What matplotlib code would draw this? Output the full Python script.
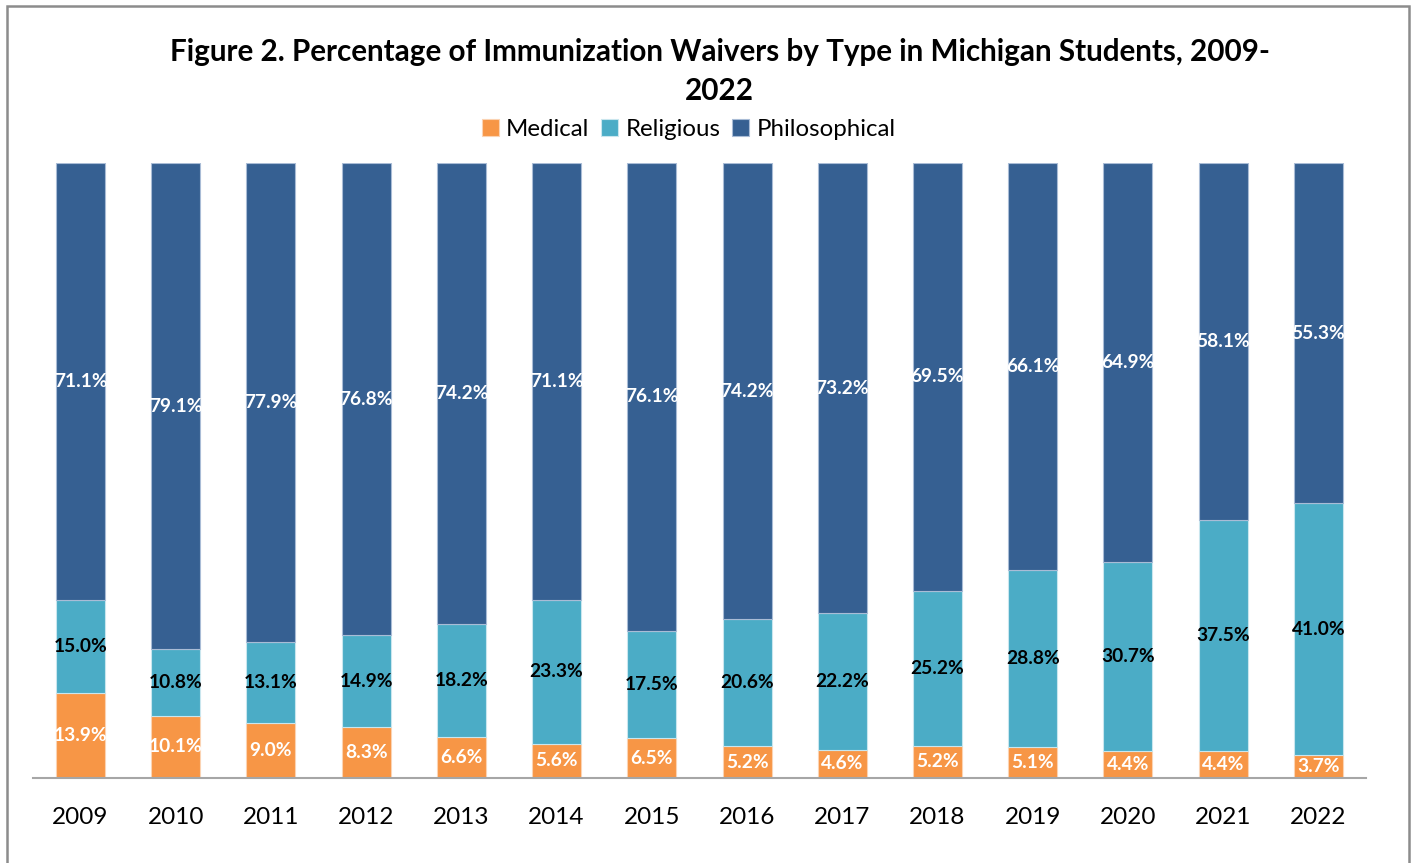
import matplotlib.pyplot as plt
import numpy as np
from matplotlib.patches import Rectangle

years = ["2009", "2010", "2011", "2012", "2013", "2014", "2015",
         "2016", "2017", "2018", "2019", "2020", "2021", "2022"]
medical = [13.9, 10.1, 9.0, 8.3, 6.6, 5.6, 6.5, 5.2, 4.6, 5.2, 5.1, 4.4, 4.4, 3.7]
religious = [15.0, 10.8, 13.1, 14.9, 18.2, 23.3, 17.5, 20.6, 22.2, 25.2, 28.8, 30.7, 37.5, 41.0]
philosophical = [71.1, 79.1, 77.9, 76.8, 74.2, 71.1, 76.1, 74.2, 73.2, 69.5, 66.1, 64.9, 58.1, 55.3]

plt.rcParams['font.family'] = ['Lato', 'DejaVu Sans']

fig = plt.figure(figsize=(14.14, 8.63), dpi=100)
ax = fig.add_axes([0.0233, 0.0985, 0.9427, 0.7126])

x = np.arange(len(years))
med = np.array(medical)
rel = np.array(religious)
phi = np.array(philosophical)
# 100% stacked: each bar scaled to its own total
tot = med + rel + phi
med_h = med / tot * 100
rel_h = rel / tot * 100
phi_h = phi / tot * 100
w = 0.515

b1 = ax.bar(x, med_h, w, color="#F79646", edgecolor="#fbd3b3", linewidth=0.8, label="Medical")
b2 = ax.bar(x, rel_h, w, bottom=med_h, color="#4BACC6", edgecolor="#c9e6ee", linewidth=0.8, label="Religious")
b3 = ax.bar(x, phi_h, w, bottom=med_h + rel_h, color="#366092", edgecolor="#a9bcd6", linewidth=0.8, label="Philosophical")

ax.bar_label(b1, labels=[f"{v:.1f}%" for v in med], label_type="center",
             color="white", fontweight="bold", fontsize=13.8)
ax.bar_label(b2, labels=[f"{v:.1f}%" for v in rel], label_type="center",
             color="black", fontweight="bold", fontsize=13.8)
ax.bar_label(b3, labels=[f"{v:.1f}%" for v in phi], label_type="center",
             color="white", fontweight="bold", fontsize=13.8)

ax.set_xlim(-0.5, len(years) - 0.5)
ax.set_ylim(0, 100)
ax.set_xticks(x)
ax.set_xticklabels(years, fontsize=17.5)
ax.tick_params(axis="x", length=0, pad=21)
ax.set_yticks([])
for s in ["top", "right", "left"]:
    ax.spines[s].set_visible(False)
ax.spines["bottom"].set_color("#a6a6a6")
ax.spines["bottom"].set_linewidth(1.5)

fig.text(0.509, 0.940, "Figure 2. Percentage of Immunization Waivers by Type in Michigan Students, 2009-",
         ha="center", va="center", fontsize=21.3, fontweight="bold")
fig.text(0.509, 0.894, "2022", ha="center", va="center", fontsize=21.3, fontweight="bold")

fig.legend(handles=[b1, b2, b3], loc="center", bbox_to_anchor=(0.487, 0.850), ncol=3,
           frameon=False, fontsize=17.3, handlelength=0.7, handleheight=0.7,
           handletextpad=0.3, columnspacing=0.5)

fig.add_artist(Rectangle((7 / 1414, -0.05), (1409 - 7) / 1414, 1.05 - 6 / 863,
                         transform=fig.transFigure, fill=False, edgecolor="#8c8c8c",
                         linewidth=1.8))

fig.savefig("out.png", dpi=100)
